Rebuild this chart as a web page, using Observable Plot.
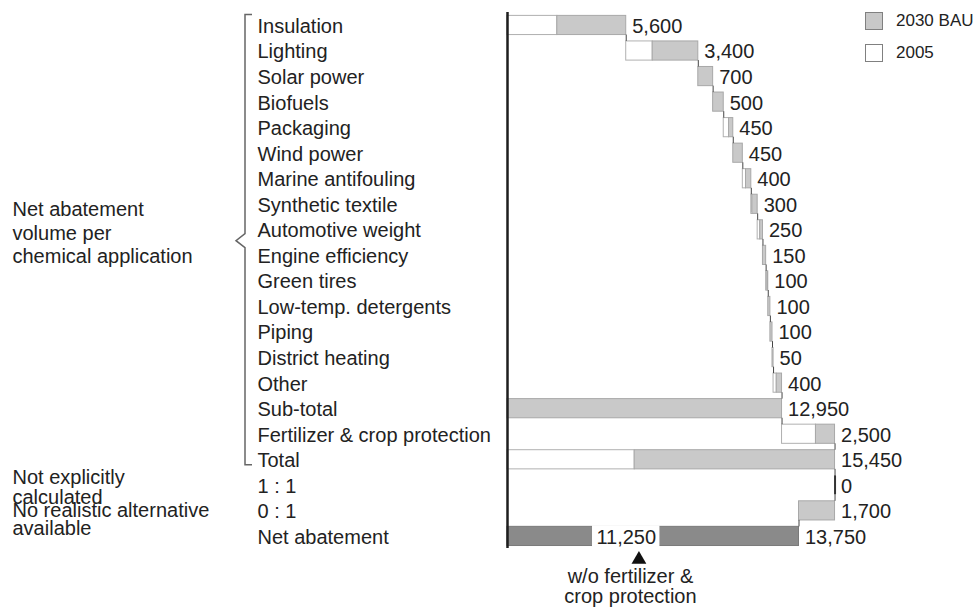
<!DOCTYPE html>
<html>
<head>
<meta charset="utf-8">
<script src="https://cdn.jsdelivr.net/npm/d3@7"></script>
<script src="https://cdn.jsdelivr.net/npm/@observablehq/plot@0.6"></script>
<style>
  body { margin: 0; background: #fff; }
  #wrap { position: relative; width: 976px; height: 609px; overflow: hidden;
          font-family: "Liberation Sans", Arial, Helvetica, sans-serif; color: #222; }
  #legend { position: absolute; left: 865px; top: 12px; font-size: 17px; }
  .item { display: flex; align-items: center; height: 18px; margin-bottom: 14px; }
  .sw { width: 18px; height: 18px; box-sizing: border-box; border: 1.5px solid #808080; margin-right: 13px; }
</style>
</head>
<body>
<div id="wrap">
  <div id="chart"></div>
  <div id="legend">
    <div class="item"><div class="sw" style="background:#c8c8c8"></div><span>2030 BAU</span></div>
    <div class="item"><div class="sw" style="background:#fff"></div><span>2005</span></div>
  </div>
</div>
<script>
// ---- data ----
const applications = ["Insulation", "Lighting", "Solar power", "Biofuels", "Packaging", "Wind power",
  "Marine antifouling", "Synthetic textile", "Automotive weight", "Engine efficiency", "Green tires",
  "Low-temp. detergents", "Piping", "District heating", "Other"];
const value2030 = [5600, 3400, 700, 500, 450, 450, 400, 300, 250, 150, 100, 100, 100, 50, 400];
const value2005 = [2350, 1250, 0, 0, 250, 0, 150, 50, 120, 0, 60, 0, 0, 0, 150];

const summaryLabels = ["Sub-total", "Fertilizer & crop protection", "Total", "1 : 1", "0 : 1", "Net abatement"];
const summaryValues = [12950, 2500, 15450, 0, -1700, 13750];
const summary2005 = [0, 1600, 6000, 0, 0, 0];
const summaryKinds = ["total", "step", "total", "step", "step", "total"];

const groupLabel = ["Net abatement\nvolume per\nchemical application"];
const notCalcLabel = ["Not explicitly\ncalculated"];
const noAltLabel = ["No realistic alternative\navailable"];
const withoutFertilizer = [11250];
const withoutFertilizerNote = ["w/o fertilizer &\ncrop protection"];
const noteLabelX = [5600];
const noteMarkerX = [6200];
const noteTextX = [5800];

// ---- build waterfall table ----
const rows = [];
applications.forEach((name, i) => rows.push({name, value: value2030[i], v2005: value2005[i], kind: "step"}));
summaryLabels.forEach((name, i) => rows.push({name, value: summaryValues[i], v2005: summary2005[i], kind: summaryKinds[i]}));
let running = 0;
const connectors = [];
rows.forEach((r, i) => {
  if (r.kind === "total") { r.start = 0; r.end = r.value; }
  else { r.start = running; r.end = running + r.value; }
  if (i > 0) connectors.push({name: rows[i - 1].name, x: running});
  running = r.end;
  r.lo = Math.min(r.start, r.end);
  r.hi = Math.max(r.start, r.end);
  r.split = r.lo + r.v2005;
});

const H = 609, MT = 9.0, MB = 57.1, PAD = 0.25;
const stepPx = (H - MT - MB) / (rows.length + PAD);
const bw = stepPx * (1 - PAD);
const gap = stepPx - bw;
const gapHalf = 1590; // half-width (x units) of the white gap behind the 11,250 label
const fmt = d3.format(",");
const isNet = d => d.name === "Net abatement";
const netRow = rows.filter(isNet);

const plot = Plot.plot({
  width: 976, height: H,
  marginLeft: 507, marginRight: 45, marginTop: MT, marginBottom: MB,
  x: {domain: [0, 20000], axis: null},
  y: {domain: rows.map(d => d.name), axis: null, padding: PAD, round: false},
  style: {fontFamily: "'Liberation Sans', Arial, Helvetica, sans-serif", fontSize: "20px", color: "#222", background: "white", overflow: "visible"},
  marks: [
    Plot.barX(rows.filter(d => d.v2005 > 0), {y: "name", x1: "lo", x2: "split", fill: "white", stroke: "#b0b0b0", strokeWidth: 1}),
    Plot.barX(rows.filter(d => d.hi > d.split), {y: "name", x1: "split", x2: "hi",
      fill: d => isNet(d) ? "#8a8a8a" : "#c9c9c9", stroke: d => isNet(d) ? "#7a7a7a" : "#a8a8a8", strokeWidth: 1}),
    // white gap in the net abatement bar for the 11,250 label
    Plot.barX(netRow, {y: "name", x1: () => noteLabelX[0] - gapHalf, x2: () => noteLabelX[0] + gapHalf,
      fill: "white", insetTop: -1, insetBottom: -1}),
    // zero-width rows drawn as a line
    Plot.ruleX(rows.filter(d => d.lo === d.hi), {x: "hi", y1: "name", y2: "name", stroke: "#333", strokeWidth: 2}),
    // connectors between consecutive bars
    Plot.ruleX(connectors, {x: "x", y1: "name", y2: "name", insetTop: bw, insetBottom: -gap, stroke: "#444", strokeWidth: 1}),
    // vertical axis line
    Plot.ruleX([0], {stroke: "#1e1e1e", strokeWidth: 2.5, insetTop: 3, insetBottom: 4}),
    // category labels
    Plot.text(rows, {y: "name", text: "name", frameAnchor: "left", textAnchor: "start", dx: -250, dy: 1, fill: "#222"}),
    // value labels
    Plot.text(rows, {x: "hi", y: "name", text: d => fmt(Math.abs(d.value)), textAnchor: "start", dx: 6, dy: 1, fill: "#222"}),
    Plot.text(withoutFertilizer, {x: (d, i) => noteLabelX[i], y: () => "Net abatement", text: d => fmt(d), dy: 1, fill: "#222"}),
    Plot.dot(noteMarkerX, {x: d => d, y: () => "Net abatement", symbol: "triangle", r: 5.5, fill: "#111", dy: 23}),
    Plot.text(withoutFertilizerNote, {x: (d, i) => noteTextX[i], y: () => "Net abatement", text: d => d,
      lineAnchor: "top", dy: 32, lineHeight: 1.0, fill: "#222"}),
    // left group labels
    Plot.text(groupLabel, {y: () => "Automotive weight", text: d => d, frameAnchor: "left", textAnchor: "start",
      dx: -495, dy: 2.5, lineHeight: 1.17, fill: "#222"}),
    Plot.text(notCalcLabel, {y: () => "1 : 1", text: d => d, frameAnchor: "left", textAnchor: "start",
      dx: -495, dy: 2, lineHeight: 1.0, fill: "#222"}),
    Plot.text(noAltLabel, {y: () => "0 : 1", text: d => d, frameAnchor: "left", textAnchor: "start",
      dx: -495, dy: 9, lineHeight: 0.9, fill: "#222"})
  ]
});
document.getElementById("chart").appendChild(plot);

// curly bracket next to the application labels
const yScale = plot.scale("y");
const braceTop = yScale.apply("Insulation") - 1;
const braceBottom = yScale.apply("Total") + yScale.bandwidth - 4;
const braceMid = (braceTop + braceBottom) / 2 + 1;
d3.select(plot).append("path")
  .attr("d", `M252,${braceTop}H245V${braceMid - 7}L236,${braceMid}L245,${braceMid + 7}V${braceBottom}H252`)
  .attr("fill", "none").attr("stroke", "#666").attr("stroke-width", 1.5);
</script>
</body>
</html>
